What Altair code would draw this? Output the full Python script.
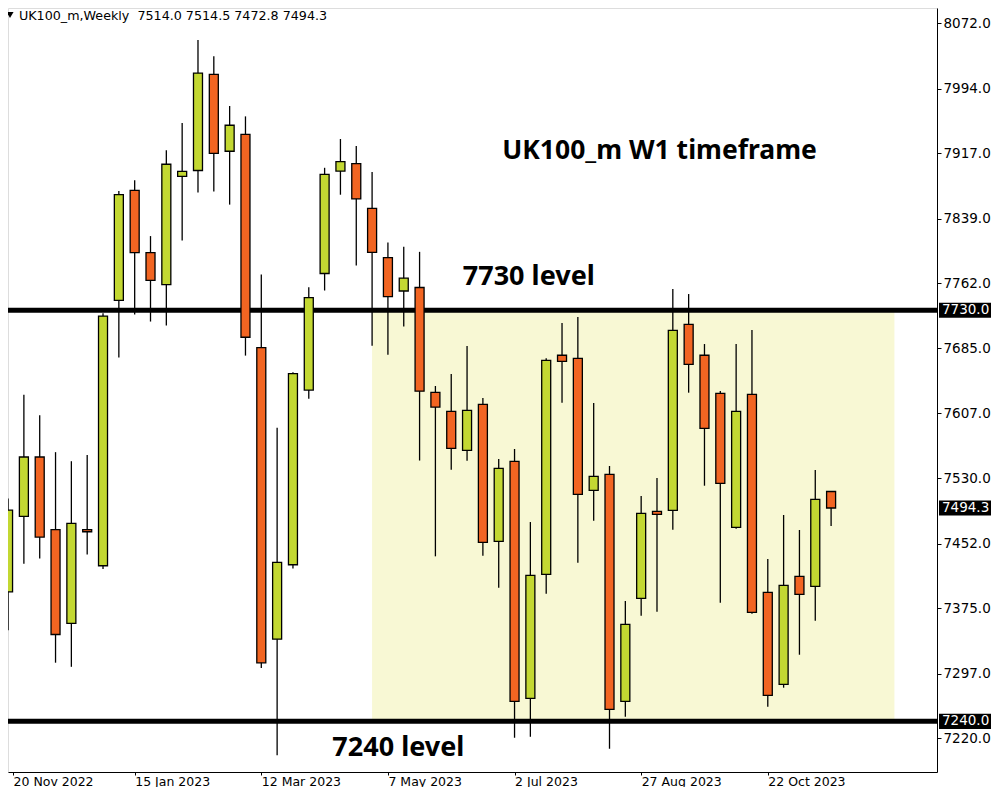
import altair as alt
import pandas as pd

# ---- data (UK100_m weekly candles, from 20 Nov 2022) ----
opens = [7394.4, 7484.4, 7555.1, 7468.5, 7356.8, 7468.5, 7425.5, 7741.9, 7872.9, 7798.8,
         7760.6, 7889.6, 7896.7, 8011.2, 7919.6, 7939.8, 7685.5, 7337.9, 7426.7, 7634.9,
         7773.9, 7896.0, 7904.9, 7851.5, 7792.9, 7753.0, 7757.2, 7632.2, 7609.6, 7563.1,
         7617.9, 7454.6, 7550.0, 7267.4, 7415.3, 7676.4, 7672.8, 7515.4, 7534.5, 7263.9,
         7386.6, 7490.4, 7491.6, 7713.3, 7676.4, 7631.0, 7471.3, 7629.9, 7393.8, 7284.1,
         7412.9, 7401.0, 7514.0]
highs = [7505.6, 7629.3, 7604.9, 7560.9, 7550.1, 7557.5, 7726.5, 7872.3, 7885.2, 7818.5,
         7920.9, 7953.4, 8052.3, 8032.9, 7973.6, 7961.2, 7772.7, 7589.9, 7656.3, 7757.5,
         7899.9, 7934.2, 7925.8, 7894.9, 7810.9, 7805.9, 7799.7, 7639.8, 7654.1, 7687.4,
         7625.4, 7552.7, 7564.6, 7477.6, 7672.8, 7714.9, 7722.0, 7619.5, 7544.4, 7383.4,
         7508.6, 7530.1, 7755.4, 7749.4, 7689.8, 7633.8, 7689.8, 7706.5, 7433.5, 7486.0,
         7468.1, 7539.6, 7514.5]
lows = [7348.5, 7428.0, 7434.0, 7309.9, 7305.0, 7438.9, 7421.6, 7673.7, 7725.0, 7716.6,
        7711.8, 7813.1, 7870.4, 7871.6, 7856.0, 7676.0, 7303.6, 7199.5, 7422.2, 7624.7,
        7753.6, 7867.8, 7783.4, 7687.8, 7677.1, 7710.8, 7550.9, 7436.7, 7540.0, 7550.7,
        7437.4, 7399.3, 7220.5, 7221.6, 7392.1, 7619.8, 7429.1, 7479.2, 7207.3, 7245.5,
        7365.9, 7370.7, 7468.4, 7631.8, 7520.9, 7381.4, 7469.6, 7368.3, 7257.4, 7280.1,
        7319.4, 7359.9, 7472.8]
closes = [7491.8, 7555.1, 7459.7, 7343.5, 7475.9, 7466.0, 7723.1, 7867.9, 7798.8, 7765.6,
          7904.1, 7895.6, 8012.8, 7917.2, 7950.6, 7697.9, 7309.7, 7429.6, 7654.5, 7745.1,
          7892.0, 7907.2, 7862.8, 7799.1, 7746.3, 7768.3, 7633.6, 7614.7, 7565.5, 7610.8,
          7453.4, 7541.6, 7263.9, 7414.1, 7670.4, 7669.2, 7510.6, 7532.1, 7254.3, 7355.6,
          7488.0, 7486.8, 7706.2, 7665.6, 7589.3, 7523.7, 7609.6, 7370.0, 7271.0, 7402.1,
          7391.4, 7504.7, 7494.3]

tick_weeks = [0, 8, 16, 24, 32, 40, 48]
tick_labels = ["20 Nov 2022", "15 Jan 2023", "12 Mar 2023", "7 May 2023",
               "2 Jul 2023", "27 Aug 2023", "22 Oct 2023"]
y_ticks = [8072.0, 7994.0, 7917.0, 7839.0, 7762.0, 7685.0, 7607.0, 7530.0,
           7452.0, 7375.0, 7297.0, 7220.0]
levels = [7730.0, 7240.0]
last_price = 7494.3
zone_weeks = [23, 56]
zone_prices = [7240.0, 7730.0]
header = "UK100_m,Weekly\u00a0\u00a07514.0 7514.5 7472.8 7494.3"
ann_texts = ["UK100_m W1 timeframe", "7730 level", "7240 level"]
ann_weeks = [41.16, 32.9, 24.66]
ann_prices = [7919.9, 7769.7, 7208.2]
ann_sizes = [26.5, 27, 27]

GREEN = "#C3D832"
RED = "#F26522"
ZONE = "#F8F8D4"
X_DOMAIN = [0.3125, 58.375]
Y_DOMAIN = [7179.6, 8090.4]
W, H = 929, 764

df = pd.DataFrame({"week": list(range(len(opens))), "open": opens, "high": highs,
                   "low": lows, "close": closes})
df["dir"] = ["up" if c >= o else "down" for o, c in zip(opens, closes)]

xs = alt.Scale(domain=X_DOMAIN, nice=False, zero=False)
ys = alt.Scale(domain=Y_DOMAIN, nice=False, zero=False)

label_expr = " : ".join(
    f"round(datum.value) == {w} ? '{t}'" for w, t in zip(tick_weeks, tick_labels)
) + " : ''"
x_values = [max(w, X_DOMAIN[0]) for w in tick_weeks]

x_axis = alt.Axis(values=x_values, labelExpr=label_expr, labelAlign="left",
                  labelFont="DejaVu Sans", labelFontSize=12.5, labelColor="black",
                  tickColor="black", tickSize=3, domainColor="black", labelPadding=0,
                  grid=False, title=None, labelOverlap=False, labelFlush=False)
y_axis = alt.Axis(orient="right", values=y_ticks, format=".1f",
                  labelFont="DejaVu Sans", labelFontSize=13.5, labelColor="black",
                  tickColor="black", tickSize=4, domainColor="black", labelPadding=2,
                  grid=False, title=None, labelOverlap=False)

base = alt.Chart(df)

zone = alt.Chart(pd.DataFrame({"x": [zone_weeks[0]], "x2": [zone_weeks[1]],
                               "y": [zone_prices[0]], "y2": [zone_prices[1]]})).mark_rect(
    color=ZONE, clip=True
).encode(
    x=alt.X("x:Q", scale=xs, axis=x_axis),
    x2="x2:Q",
    y=alt.Y("y:Q", scale=ys, axis=y_axis),
    y2="y2:Q",
)

level_lines = alt.Chart(pd.DataFrame({"level": levels})).mark_rule(
    color="black", strokeWidth=5
).encode(y=alt.Y("level:Q", scale=ys))

wicks = base.mark_rule(color="black", strokeWidth=1.3, clip=True).encode(
    x=alt.X("week:Q", scale=xs),
    y=alt.Y("low:Q", scale=ys),
    y2="high:Q",
)

bodies = base.mark_bar(size=9, stroke="black", strokeWidth=1.3, clip=True).encode(
    x=alt.X("week:Q", scale=xs),
    y=alt.Y("open:Q", scale=ys),
    y2="close:Q",
    color=alt.Color("dir:N", scale=alt.Scale(domain=["up", "down"], range=[GREEN, RED]),
                    legend=None),
)

ann = alt.Chart(pd.DataFrame({"t": ann_texts, "w": ann_weeks, "p": ann_prices,
                              "s": ann_sizes})).mark_text(
    font="Noto Sans", fontWeight="bold", color="black",
    align="center", baseline="middle"
).encode(x=alt.X("w:Q", scale=xs), y=alt.Y("p:Q", scale=ys), text="t:N",
         size=alt.Size("s:Q", scale=None, legend=None))

head_tri = alt.Chart(pd.DataFrame({"a": [1]})).mark_point(
    shape="triangle-down", filled=True, color="black", size=50, opacity=1
).encode(x=alt.value(2), y=alt.value(7))

head_text = alt.Chart(pd.DataFrame({"t": [header]})).mark_text(
    font="DejaVu Sans", fontSize=12.7, color="black", align="left", baseline="middle"
).encode(x=alt.value(11), y=alt.value(7.5), text="t:N")

box_df = pd.DataFrame({"p": levels + [last_price]})
box_df["lab"] = [f"{v:.1f}" for v in box_df["p"]]
boxes = alt.Chart(box_df).mark_point(
    shape="M-1,-0.29L1,-0.29L1,0.29L-1,0.29Z", filled=True, color="black",
    size=2704, opacity=1, strokeWidth=0
).encode(x=alt.value(957), y=alt.Y("p:Q", scale=ys))
box_text = alt.Chart(box_df).mark_text(
    font="DejaVu Sans", fontSize=13.5, color="white", align="left", baseline="middle"
).encode(x=alt.value(934), y=alt.Y("p:Q", scale=ys), text="lab:N")

chart = alt.layer(
    zone, level_lines, wicks, bodies, ann, head_tri, head_text, boxes, box_text
).properties(
    width=W, height=H,
    padding={"left": 0, "top": 0, "right": 55, "bottom": 15},
    autosize=alt.AutoSizeParams(type="none"),
).configure_view(
    stroke="black", strokeWidth=1
).configure(background="white")

chart.save("out.html", embed_options={"renderer": "svg", "actions": False})
